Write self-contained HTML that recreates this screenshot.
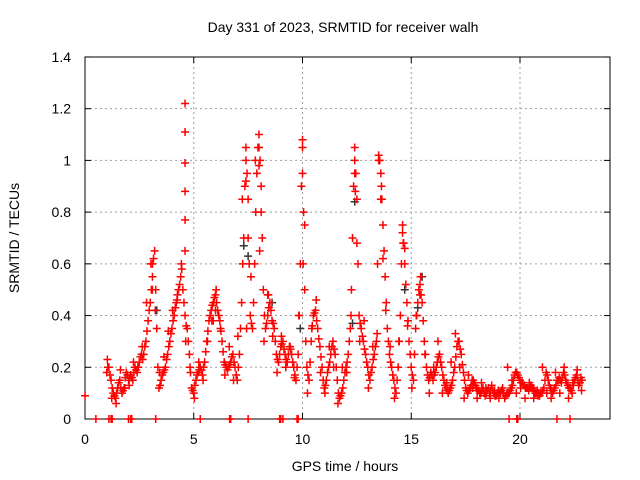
<!DOCTYPE html>
<html><head><meta charset="utf-8"><style>
body{margin:0;background:#fff;}
svg{display:block;font-family:"Liberation Sans",sans-serif;}
</style></head><body>
<svg id="chart" width="640" height="480" viewBox="0 0 640 480">
<rect width="640" height="480" fill="#fff"/>
<g id="grid"></g>
<g id="axes"></g>
<g id="black"></g>
<g id="red"></g>
<text x="343" y="32" font-size="14" text-anchor="middle">Day 331 of 2023, SRMTID for receiver walh</text>
<text x="345" y="471" font-size="14" text-anchor="middle">GPS time / hours</text>
<text transform="translate(19,238) rotate(-90)" font-size="14" text-anchor="middle">SRMTID / TECUs</text>
</svg>
<script>
const xTicks=[0,5,10,15,20];
const yTicks=[0,0.2,0.4,0.6,0.8,1,1.2,1.4];
const yTickLabels=["0","0.2","0.4","0.6","0.8","1","1.2","1.4"];
const regStart=1.0, regStep=0.1;
const regValues=[0.18,0.2,0.15,0.1,0.08,0.12,0.15,0.1,0.12,0.18,0.15,
0.17,0.15,0.2,0.18,0.22,0.25,0.25,0.3,0.38,
0.45,0.55,0.65,0.35,0.12,0.15,0.18,0.2,0.25,0.3,
0.35,0.4,0.45,0.5,0.55,0.5,0.4,0.35,0.25,0.12,
0.1,0.15,0.18,0.2,0.17,0.22,0.3,0.38,0.42,0.45,
0.48,0.42,0.38,0.3,0.22,0.2,0.2,0.22,0.25,0.2,
0.15,0.25,0.45,0.7,1.0,0.85,0.4,0.35,0.6,0.95,
1.1,0.9,0.5,0.35,0.4,0.45,0.38,0.35,0.25,0.22,
0.28,0.3,0.25,0.22,0.28,0.25,0.2,0.15,0.25,0.6,
1.05,0.5,0.2,0.15,0.3,0.4,0.42,0.35,0.28,0.2,
0.12,0.15,0.2,0.25,0.3,0.25,0.15,0.08,0.1,0.15,
0.2,0.25,0.35,0.7,1.0,0.85,0.4,0.35,0.3,0.25,
0.2,0.15,0.2,0.25,0.3,1.02,0.95,0.75,0.55,0.35,
0.25,0.2,0.15,0.1,0.2,0.4,0.72,0.6,0.45,0.3,
0.2,0.15,0.35,0.45,0.52,0.45,0.3,0.2,0.15,0.18,
0.15,0.18,0.22,0.25,0.2,0.15,0.12,0.1,0.12,0.15,
0.2,0.28,0.3,0.25,0.18,0.12,0.1,0.12,0.15,0.14,
0.12,0.11,0.1,0.12,0.09,0.11,0.1,0.13,0.1,0.09,
0.11,0.1,0.12,0.08,0.1,0.1,0.12,0.15,0.18,0.17,
0.15,0.14,0.13,0.12,0.11,0.13,0.12,0.1,0.11,0.09,
0.1,0.12,0.18,0.15,0.12,0.1,0.12,0.15,0.16,0.14,
0.18,0.15,0.13,0.12,0.1,0.15,0.17,0.13,0.16];
const midStart=1.05, midStep=0.1;
const midValues=[0.2,0.17,0.12,0.09,0.1,0.14,0.12,0.11,0.16,0.17,0.16,
0.16,0.18,0.19,0.2,0.24,0.23,0.28,0.34,0.42,
0.5,0.62,0.5,0.2,0.13,0.17,0.19,0.23,0.28,0.33,
0.38,0.43,0.48,0.52,0.58,0.45,0.36,0.3,0.18,0.11,
0.13,0.17,0.19,0.19,0.2,0.26,0.34,0.4,0.44,0.47,
0.45,0.4,0.34,0.26,0.21,0.19,0.21,0.24,0.22,0.17,
0.2,0.35,0.6,0.9,0.95,0.6,0.37,0.45,0.8,1.05,
1.0,0.7,0.4,0.37,0.43,0.42,0.37,0.3,0.23,0.25,
0.29,0.27,0.23,0.25,0.27,0.22,0.17,0.2,0.4,0.9,
0.8,0.3,0.17,0.22,0.36,0.41,0.38,0.31,0.24,0.15,
0.13,0.18,0.22,0.28,0.27,0.2,0.1,0.09,0.12,0.18,
0.22,0.3,0.5,0.9,0.95,0.6,0.37,0.32,0.27,0.22,
0.17,0.18,0.23,0.28,0.6,1.0,0.85,0.65,0.45,0.3,
0.22,0.17,0.12,0.15,0.3,0.6,0.68,0.52,0.38,0.25,
0.17,0.25,0.4,0.5,0.48,0.38,0.25,0.17,0.16,0.17,
0.17,0.2,0.24,0.22,0.17,0.13,0.11,0.11,0.13,0.18,
0.24,0.3,0.27,0.21,0.15,0.11,0.11,0.13,0.15,0.13,
0.11,0.1,0.11,0.1,0.1,0.12,0.11,0.11,0.09,0.1,
0.1,0.11,0.1,0.09,0.1,0.11,0.13,0.17,0.18,0.16,
0.14,0.13,0.12,0.12,0.12,0.12,0.11,0.1,0.1,0.1,
0.11,0.15,0.17,0.13,0.11,0.11,0.13,0.15,0.15,0.16,
0.17,0.14,0.12,0.11,0.13,0.16,0.15,0.14,0.15];
const scatStart=1.03, scatStep=0.2;
const scatValues=[0.23,0.08,0.06,0.19,0.12,
0.13,0.22,0.2,0.28,0.45,
0.6,0.42,0.18,0.24,0.34,
0.42,0.46,0.6,0.3,0.2,
0.08,0.22,0.15,0.3,0.38,
0.5,0.35,0.17,0.28,0.15,
0.32,0.85,0.35,0.55,1.0,
0.65,0.3,0.48,0.32,0.18,
0.32,0.2,0.28,0.16,0.4,
0.6,0.1,0.35,0.46,0.18,
0.1,0.28,0.2,0.06,0.2,
0.18,0.4,0.88,0.3,0.38,
0.12,0.28,0.33,0.9,0.42,
0.28,0.08,0.3,0.68,0.36,
0.12,0.4,0.55,0.25,0.1,
0.2,0.3,0.1,0.14,0.22,
0.33,0.2,0.08,0.17,0.12,
0.08,0.14,0.12,0.08,0.11,
0.08,0.1,0.2,0.15,0.1,
0.12,0.08,0.14,0.08,0.09,
0.2,0.1,0.08,0.18,0.1,
0.2,0.08,0.14,0.19,0.11];
const extraHours=[0,4.6,4.6,4.6,4.6,4.6,4.6,7.4,7.4,7.5,8.0,8.0,8.1,10.0,10.0,10.1,12.4,12.4,12.5,13.5,13.6,13.7,14.6,14.7,3.1,3.1,5.9,6.0,8.4,15.4];
const extraValues=[0.09,1.22,1.11,0.99,0.88,0.77,0.65,1.05,0.92,0.7,1.05,0.98,0.8,1.08,0.95,0.75,1.05,0.95,0.68,1.0,0.85,0.62,0.75,0.66,0.6,0.5,0.38,0.42,0.48,0.48];
const zeroHours=[0.5,1.1,1.2,1.25,2.0,2.1,2.15,3.25,5.3,6.65,6.7,7.5,8.95,9.0,9.1,9.75,9.8,19.5,19.85,19.9,21.7,22.3];
const blackHours=[3.3,7.3,7.5,9.9,12.3,12.4,14.7,15.5,15.3,8.6];
const blackValues=[0.42,0.67,0.63,0.35,0.37,0.84,0.5,0.55,0.43,0.45];

const X0=85,XS=21.75,Y0=419,YS=258.6;
const sx=t=>X0+t*XS, sy=v=>Y0-v*YS;
const NS="http://www.w3.org/2000/svg";
function mk(tag,attrs,parent){const e=document.createElementNS(NS,tag);for(const k in attrs)e.setAttribute(k,attrs[k]);parent.appendChild(e);return e;}
const grid=document.getElementById('grid'),axes=document.getElementById('axes');
yTicks.forEach((v,i)=>{const y=sy(v);
 if(i>0&&i<yTicks.length-1){const g=mk('line',{x1:X0,x2:610,y1:y,y2:y,stroke:'#a0a0a0','stroke-dasharray':'2,3'},grid);
 
 }
 mk('line',{x1:X0,x2:X0+6,y1:y,y2:y,stroke:'#000'},axes);
 mk('line',{x1:604,x2:610,y1:y,y2:y,stroke:'#000'},axes);
 const t=mk('text',{x:71,y:y+5,'font-size':14,'text-anchor':'end'},axes);t.textContent=yTickLabels[i];
 
 
});
xTicks.forEach(h=>{const x=sx(h);
 if(h>0){const g=mk('line',{x1:x,x2:x,y1:57,y2:Y0,stroke:'#a0a0a0','stroke-dasharray':'2,3'},grid);
 
 }
 mk('line',{x1:x,x2:x,y1:Y0,y2:Y0-6,stroke:'#000'},axes);
 mk('line',{x1:x,x2:x,y1:57,y2:63,stroke:'#000'},axes);
 const t=mk('text',{x:x,y:444,'font-size':14,'text-anchor':'middle'},axes);t.textContent=String(h);
 
 
});
const b=mk('rect',{x:X0,y:57,width:525,height:362,fill:'none',stroke:'#000'},axes);


function plus(t,v,col,parent){const x=sx(t),y=sy(v);
 const p=mk('path',{d:`M${x-4} ${y}H${x+4}M${x} ${y-4}V${y+4}`,stroke:col,'stroke-width':1.5,fill:'none'},parent);
 
 }
const black=document.getElementById('black'),red=document.getElementById('red');
blackHours.forEach((t,i)=>plus(t,blackValues[i],'#333',black));
regValues.forEach((v,i)=>plus(regStart+i*regStep,v,'#ff0000',red));
midValues.forEach((v,i)=>plus(midStart+i*midStep,v,'#ff0000',red));
scatValues.forEach((v,i)=>plus(scatStart+i*scatStep,v,'#ff0000',red));
extraHours.forEach((t,i)=>plus(t,extraValues[i],'#ff0000',red));
zeroHours.forEach(t=>plus(t,0,'#ff0000',red));
</script>
</body></html>
